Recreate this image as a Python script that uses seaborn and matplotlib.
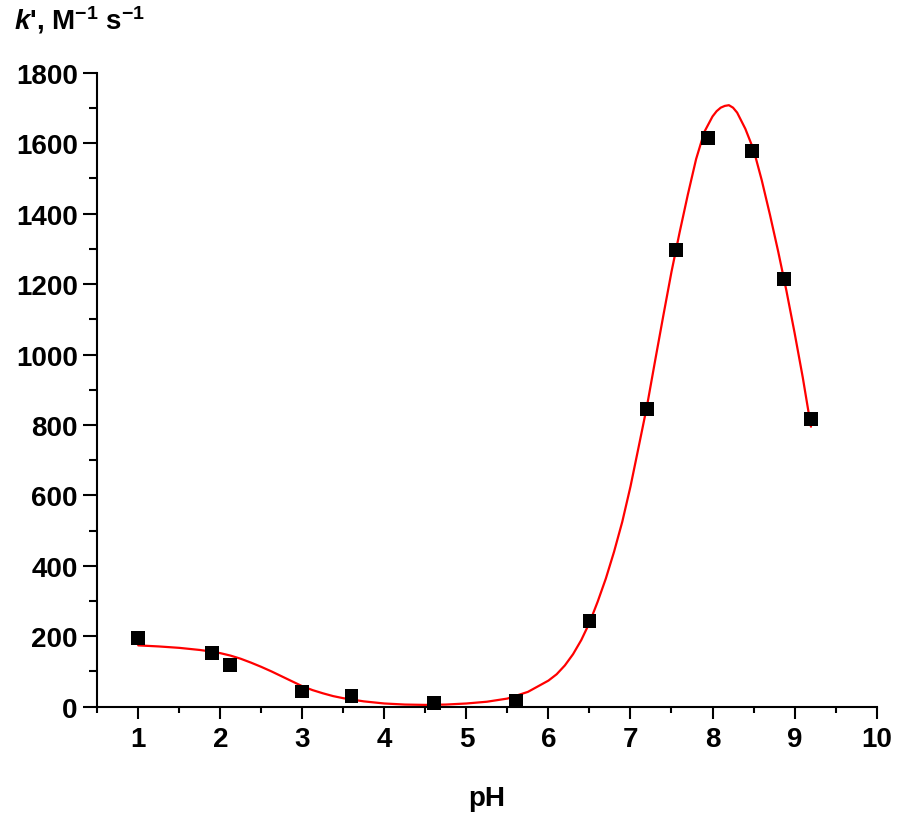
#!/usr/bin/env python3

import pandas as pd
import numpy as np
from matplotlib import pyplot as plt
from matplotlib.ticker import MultipleLocator
import seaborn as sns

# measured points
ph = [1.0, 1.9, 2.12, 3.0, 3.6, 4.6, 5.6, 6.5, 7.2, 7.55, 7.94, 8.48, 8.87, 9.2]
k = [196, 153, 119, 43, 31, 11, 17, 244, 846, 1298, 1616, 1579, 1215, 818]

# fitted curve
fit_ph = [1.0, 1.25, 1.5, 1.75, 1.875, 2.0, 2.125, 2.25, 2.375, 2.5, 2.625,
          2.75, 2.875, 3.0, 3.125, 3.25, 3.375, 3.5, 3.75,
          4.0, 4.25, 4.5, 4.75, 5.0, 5.25, 5.5, 5.75, 6.0, 6.1, 6.2, 6.3,
          6.4, 6.5, 6.6, 6.7, 6.8, 6.9, 7.0, 7.1, 7.2, 7.3, 7.4, 7.5,
          7.6, 7.7, 7.8, 7.9, 8.0, 8.05, 8.1, 8.15, 8.2, 8.25, 8.3, 8.4,
          8.5, 8.6, 8.7, 8.8, 8.9, 9.0, 9.1, 9.2]
fit_k = [174, 171, 167, 161, 157, 152, 145, 136, 125, 113, 100,
         86, 72, 58, 47, 38, 30, 24, 15,
         9, 6, 5, 6, 9, 14, 23, 42, 74, 92, 117, 149,
         189, 238, 298, 364, 440, 525, 625, 738, 852, 982, 1110, 1235,
         1348, 1455, 1555, 1632, 1676, 1691, 1701, 1706, 1708, 1701, 1687, 1641,
         1582, 1495, 1397, 1293, 1182, 1062, 935, 795]

points = pd.DataFrame({"pH": ph, "k": k})
curve = pd.DataFrame({"pH": fit_ph, "k": fit_k})

sns.set_theme(style="ticks")
plt.rcParams["font.family"] = ["Liberation Sans", "DejaVu Sans"]
plt.rcParams["font.weight"] = "bold"
plt.rcParams["text.color"] = "black"
plt.rcParams["axes.labelcolor"] = "black"
plt.rcParams["mathtext.fontset"] = "custom"
plt.rcParams["mathtext.rm"] = "Liberation Sans:bold"
plt.rcParams["mathtext.bf"] = "Liberation Sans:bold"
plt.rcParams["mathtext.it"] = "Liberation Sans:bold:italic"

fig = plt.figure(figsize=(9, 8.2), dpi=100)
ax = fig.add_axes([0.108, 0.137, 0.866, 0.773])

sns.lineplot(x="pH", y="k", data=curve, color="red", linewidth=1.6, ax=ax)
sns.scatterplot(x="pH", y="k", data=points, marker="s", s=100, color="black",
                edgecolor="none", zorder=3, clip_on=False, ax=ax)

ax.set_xlim(0.5, 10)
ax.set_ylim(0, 1800)
ax.xaxis.set_major_locator(MultipleLocator(1))
ax.xaxis.set_minor_locator(MultipleLocator(0.5))
ax.yaxis.set_major_locator(MultipleLocator(200))
ax.yaxis.set_minor_locator(MultipleLocator(100))
ax.set_xticks(range(1, 11))

sns.despine(ax=ax)
for s in ["left", "bottom"]:
    ax.spines[s].set_linewidth(1.5)
    ax.spines[s].set_color("black")

ax.tick_params(axis="both", which="both", direction="out", width=1.5,
               colors="black", labelsize=20)
ax.tick_params(axis="x", which="major", length=8.6, pad=5)
ax.tick_params(axis="x", which="minor", length=4.3)
ax.tick_params(axis="y", which="major", length=10, pad=4)
ax.tick_params(axis="y", which="minor", length=5.8)
for lbl in ax.get_xticklabels() + ax.get_yticklabels():
    lbl.set_fontweight("bold")

ax.set_xlabel("pH", fontsize=20, fontweight="bold", labelpad=24)
ax.set_ylabel("")
fig.text(0.016, 0.975, r"$\mathit{k}$', M$^{-1}$ s$^{-1}$", fontsize=20,
         fontweight="bold", ha="left", va="center")

fig.savefig("out.png", dpi=100)
